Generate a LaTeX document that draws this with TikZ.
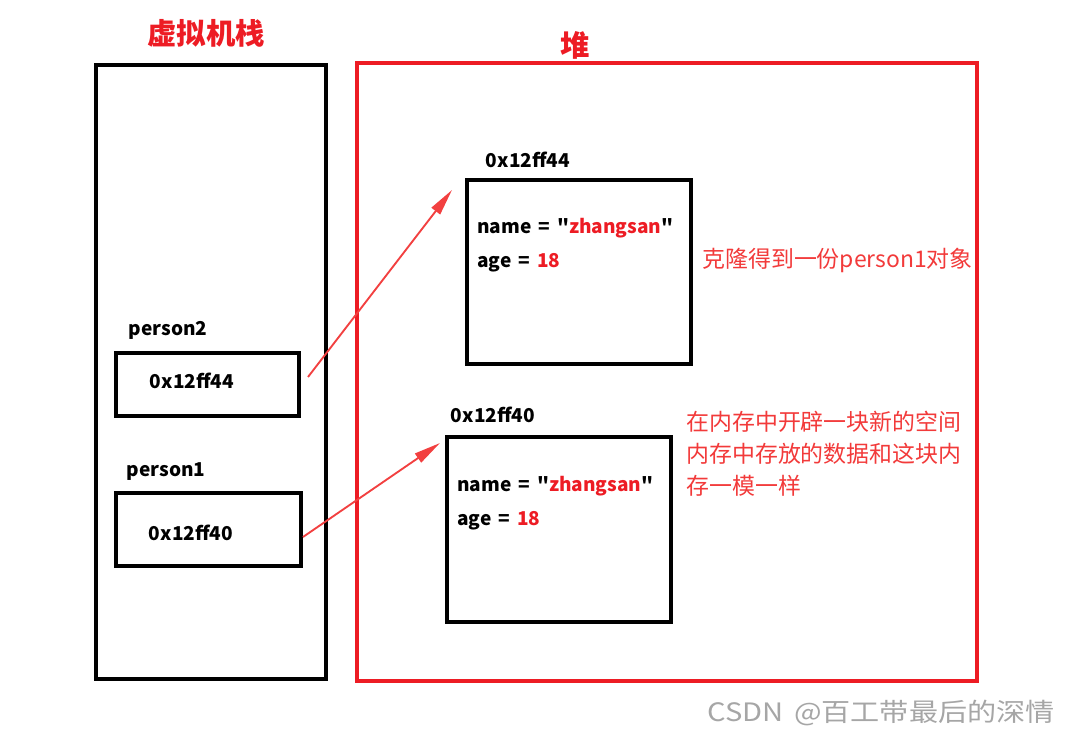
\documentclass[tikz,border=0pt]{standalone}
\usepackage{fontspec}
\setmainfont{Noto Sans CJK SC}[Ligatures=TeXOff,WordSpace=1.6]
\usetikzlibrary{arrows.meta}
\definecolor{hred}{HTML}{ED1C24}
\definecolor{nred}{HTML}{F23A3A}
\definecolor{ared}{HTML}{F24040}
\begin{document}
\begin{tikzpicture}[x=0.75pt,y=-0.75pt,
  box/.style={draw=black,line width=3pt,inner sep=0pt},
  heapbox/.style={draw=hred,line width=3pt,inner sep=0pt},
  title/.style={text=hred,font=\bfseries\fontsize{22}{26}\selectfont,inner sep=0pt},
  lbl/.style={font=\bfseries\fontsize{14.3}{17}\selectfont,inner sep=0pt},
  note/.style={text=nred,font=\fontsize{17.2}{24}\selectfont,inner sep=0pt,align=left},
  ptr/.style={draw=ared,line width=1.4pt,-{Triangle[length=20pt,width=8pt]}}]
\useasboundingbox (0,0) rectangle (1071,737);
% containers
\node[box,minimum width=230*0.75pt,minimum height=614*0.75pt] (stack) at (211,372) {};
\node[heapbox,minimum width=620*0.75pt,minimum height=618*0.75pt] (heap) at (667,372) {};
\node[title] (stacktitle) at (206,33) {虚拟机栈};
\node[title] (heaptitle) at (575,45) {堆};
% objects
\node[box,minimum width=224*0.75pt,minimum height=184*0.75pt] (obj1) at (579,272) {};
\node[box,minimum width=224*0.75pt,minimum height=185*0.75pt] (obj2) at (559,529.5) {};
\node[lbl] (obj1addr) at (528,160) {0x12ff44};
\node[lbl] (obj2addr) at (493,415) {0x12ff40};
\node[lbl,anchor=west] (obj1name) at (477,228) {name = "\textcolor{hred}{zhangsan}"};
\node[lbl,anchor=west] (obj1age) at (477,263) {age = \textcolor{hred}{18}};
\node[lbl,anchor=west] (obj2name) at (457,486) {name = "\textcolor{hred}{zhangsan}"};
\node[lbl,anchor=west] (obj2age) at (457,521) {age = \textcolor{hred}{18}};
% references
\node[box,minimum width=183*0.75pt,minimum height=63*0.75pt] (p2box) at (207.5,384.5) {};
\node[box,minimum width=185*0.75pt,minimum height=73*0.75pt] (p1box) at (208.5,529.5) {};
\node[lbl] (p2lbl) at (168,330) {person2};
\node[lbl] (p1lbl) at (166,472) {person1};
\node[lbl] (p2val) at (192,381) {0x12ff44};
\node[lbl] (p1val) at (191,533) {0x12ff40};
% arrows
\coordinate (a1s) at (308,377);
\coordinate (a1e) at (452,190);
\coordinate (a2s) at (303,537);
\coordinate (a2e) at (440,443);
\draw[ptr] (a1s) -- (a1e);
\draw[ptr] (a2s) -- (a2e);
% notes
\node[note,anchor=west] (note1) at (702,260) {克隆得到一份person1对象};
\node[note,anchor=north west] (note2) at (686,411) {在内存中开辟一块新的空间\\内存中存放的数据和这块内\\存一模一样};
% watermark
\node[text=black!35,font=\fontsize{19}{22}\selectfont,inner sep=0pt,anchor=east,xscale=1.15] (wm) at (1055,713) {CSDN @百工带最后的深情};
\end{tikzpicture}
\end{document}
